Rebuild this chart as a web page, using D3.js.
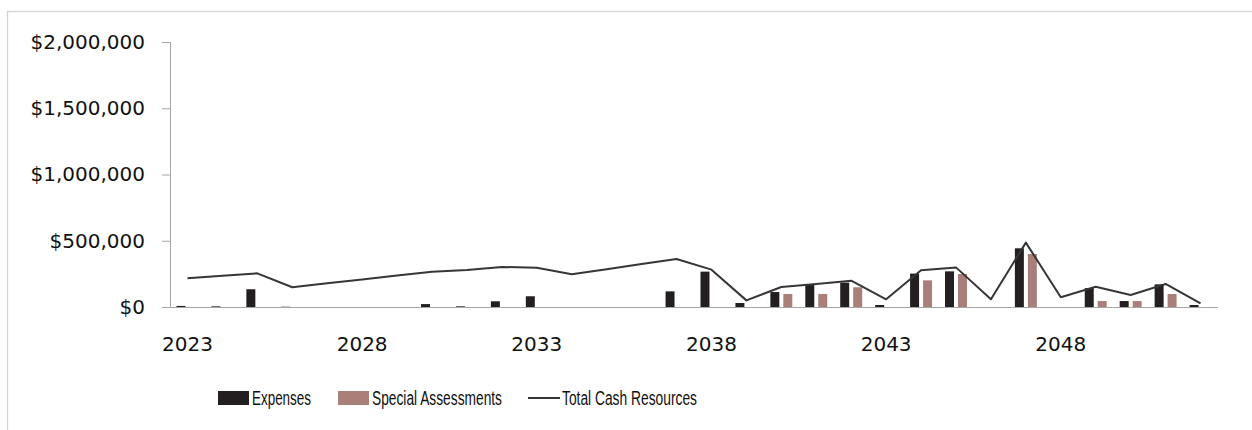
<!DOCTYPE html>
<html>
<head>
<meta charset="utf-8">
<script src="https://cdn.jsdelivr.net/npm/d3@7"></script>
<style>
  body { margin: 0; background: #fff; }
  svg { display: block; }
</style>
</head>
<body>
<svg id="chart"></svg>
<script>
// values
var years = d3.range(2023, 2053);
var expenses = [8000, 5000, 134000, 2000, 0, 0, 0, 22000, 5000, 43000,
  81000, 0, 0, 0, 118000, 267000, 30000, 113000, 168000, 184000,
  15000, 252000, 269000, 0, 443000, 0, 143000, 45000, 171000, 15000];
var specialAssessments = [0, 0, 0, 0, 0, 0, 0, 0, 0, 0,
  0, 0, 0, 0, 0, 0, 0, 98000, 98000, 149000,
  0, 201000, 249000, 0, 400000, 0, 45000, 45000, 98000, 0];
var totalCash = [217000, 236000, 254000, 149000, 179000, 208000, 238000, 266000, 279000, 302000,
  297000, 247000, 285000, 324000, 362000, 282000, 50000, 151000, 174000, 199000,
  58000, 277000, 299000, 58000, 486000, 73000, 153000, 91000, 174000, 28000];
var xTickYears = [2023, 2028, 2033, 2038, 2043, 2048];
var yTicks = [0, 500000, 1000000, 1500000, 2000000];
var seriesNames = ["Expenses", "Special Assessments", "Total Cash Resources"];

var width = 1252, height = 430;
var colors = { exp: "#231f20", sa: "#ab7f79", line: "#363636", axis: "#a6a6a6" };

var svg = d3.select("#chart").attr("width", width).attr("height", height);

// outer chart frame (runs off the right/bottom edge)
svg.append("rect")
  .attr("x", 7.5).attr("y", 11.5)
  .attr("width", width + 20).attr("height", height + 20)
  .attr("fill", "none").attr("stroke", "#d4d4d4").attr("stroke-width", 1.3);

var plot = { left: 170, right: 1218, top: 42, bottom: 307 };

var x0 = d3.scaleBand().domain(years).range([plot.left, plot.right]).paddingInner(0).paddingOuter(0);
var x1 = d3.scaleBand().domain(["exp", "sa"]).range([0, x0.bandwidth()])
  .paddingInner(0.3077).paddingOuter(0.5);
var y = d3.scaleLinear().domain([0, 2000000]).range([plot.bottom, plot.top]);

var rows = years.map(function (yr, i) {
  return { year: yr, exp: expenses[i], sa: specialAssessments[i], cash: totalCash[i] };
});

// bars
var groups = svg.append("g").selectAll("g")
  .data(rows).enter().append("g")
  .attr("transform", function (d) { return "translate(" + x0(d.year) + ",0)"; });

groups.selectAll("rect")
  .data(function (d) { return [{ key: "exp", v: d.exp }, { key: "sa", v: d.sa }]; })
  .enter().append("rect")
  .attr("x", function (d) { return x1(d.key); })
  .attr("width", x1.bandwidth())
  .attr("y", function (d) { return y(d.v); })
  .attr("height", function (d) { return plot.bottom - y(d.v); })
  .attr("fill", function (d) { return colors[d.key]; });

// line
var line = d3.line()
  .x(function (d) { return x0(d.year) + x0.bandwidth() / 2; })
  .y(function (d) { return y(d.cash); });

svg.append("path")
  .datum(rows)
  .attr("d", line)
  .attr("fill", "none")
  .attr("stroke", colors.line)
  .attr("stroke-width", 2)
  .attr("stroke-linejoin", "round");

// y axis
var yAxis = d3.axisLeft(y)
  .tickValues(yTicks)
  .tickSize(8)
  .tickPadding(17)
  .tickFormat(function (d) { return "$" + d3.format(",")(d); });

var yg = svg.append("g")
  .attr("transform", "translate(" + plot.left + ",0)")
  .call(yAxis);
yg.select(".domain").attr("stroke", colors.axis).attr("d", "M0.5," + plot.top + "V" + plot.bottom);
yg.selectAll(".tick line").attr("stroke", colors.axis);
yg.selectAll("text")
  .attr("fill", "#111")
  .style("font-family", "'DejaVu Sans', sans-serif")
  .style("font-size", "20px");

// x axis
var xAxis = d3.axisBottom(x0)
  .tickValues(xTickYears)
  .tickSize(0)
  .tickPadding(30)
  .tickSizeOuter(0);

var xg = svg.append("g")
  .attr("transform", "translate(0," + plot.bottom + ")")
  .call(xAxis);
xg.select(".domain").attr("stroke", colors.axis).attr("d", "M162,0.5H" + plot.right);
xg.selectAll("text")
  .attr("fill", "#111")
  .style("font-family", "'DejaVu Sans', sans-serif")
  .style("font-size", "20px");

// legend
var legend = svg.append("g").style("font-family", "'Liberation Sans', sans-serif").style("font-size", "20px");
var legendItems = [
  { name: seriesNames[0], kind: "exp", x: 218, textLen: 59 },
  { name: seriesNames[1], kind: "sa", x: 338, textLen: 130 },
  { name: seriesNames[2], kind: "line", x: 528, textLen: 135 }
];
legendItems.forEach(function (it) {
  if (it.kind === "line") {
    legend.append("line")
      .attr("x1", it.x).attr("x2", it.x + 32)
      .attr("y1", 398).attr("y2", 398)
      .attr("stroke", colors.line).attr("stroke-width", 2);
  } else {
    legend.append("rect")
      .attr("x", it.x).attr("y", 391)
      .attr("width", 31).attr("height", 14)
      .attr("fill", colors[it.kind]);
  }
  legend.append("text")
    .attr("x", it.x + 34).attr("y", 405)
    .attr("fill", "#111")
    .attr("textLength", it.textLen)
    .attr("lengthAdjust", "spacingAndGlyphs")
    .text(it.name);
});
</script>
</body>
</html>
